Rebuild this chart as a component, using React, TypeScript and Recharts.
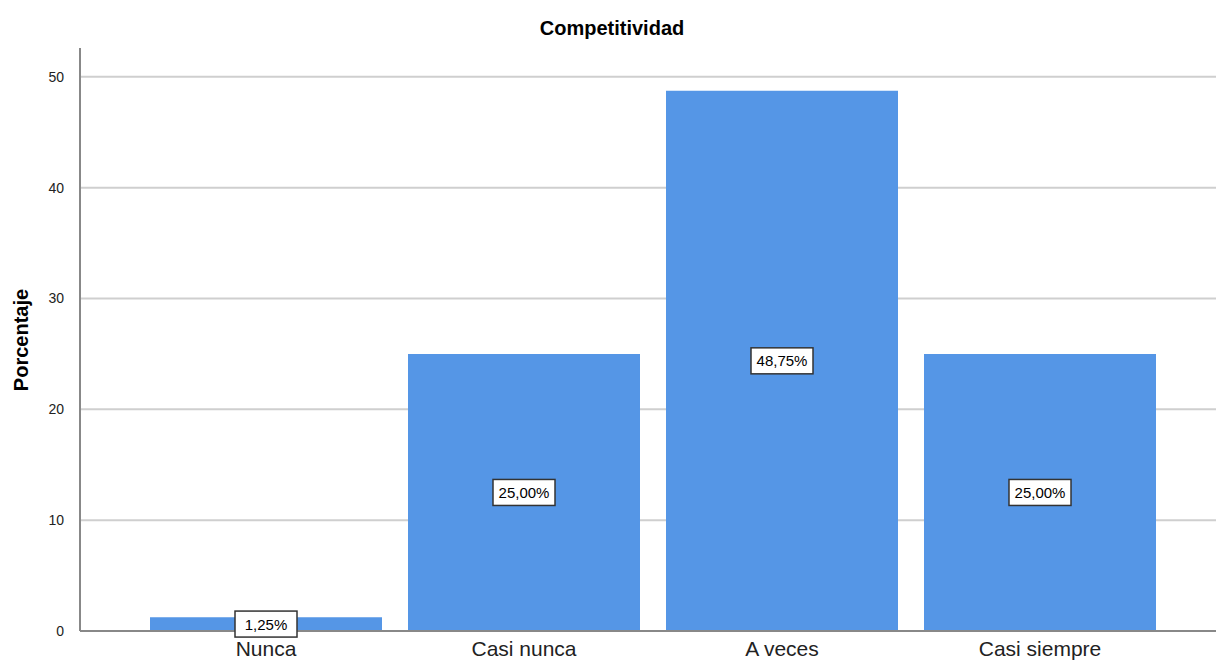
import React from 'react';
import { BarChart, Bar, XAxis, YAxis, CartesianGrid, LabelList } from 'recharts';

const categories = ['Nunca', 'Casi nunca', 'A veces', 'Casi siempre'];
const percentages = [1.25, 25.0, 48.75, 25.0];
const yTicks = [0, 10, 20, 30, 40, 50];

const data = categories.map((name, i) => ({ name, value: percentages[i] }));

const FONT = '"Liberation Sans", Arial, sans-serif';

const BoxLabel = (props: any) => {
  const { x, y, width, height, value } = props;
  const cx = x + width / 2;
  const cy = y + height / 2;
  const text = `${Number(value).toFixed(2).replace('.', ',')}%`;
  const w = 62;
  const h = 26;
  return (
    <g>
      <rect x={cx - w / 2} y={cy - h / 2} width={w} height={h} fill="#fff" stroke="#333" strokeWidth={1.5} />
      <text x={cx} y={cy + 5.5} textAnchor="middle" fontSize={15} fontFamily={FONT} fill="#000">
        {text}
      </text>
    </g>
  );
};

const App: React.FC = () => {
  return (
    <div style={{ position: 'absolute', left: 0, top: 0, width: 1216, height: 664, background: '#fff' }}>
      <div
        style={{
          position: 'absolute', top: 17, left: 0, width: 1224, textAlign: 'center',
          fontFamily: FONT, fontWeight: 'bold', fontSize: 20, color: '#000',
        }}
      >
        Competitividad
      </div>
      <div
        style={{
          position: 'absolute', left: 21, top: 340, transform: 'translate(-50%, -50%) rotate(-90deg)',
          fontFamily: FONT, fontWeight: 'bold', fontSize: 20, color: '#000', whiteSpace: 'nowrap',
        }}
      >
        Porcentaje
      </div>
      <BarChart
        width={1216}
        height={664}
        data={data}
        margin={{ top: 48, right: 0, bottom: 0, left: 0 }}
        barCategoryGap={13}
      >
        <CartesianGrid vertical={false} horizontalValues={yTicks} stroke="#cfcfcf" strokeWidth={2} />
        <XAxis
          dataKey="name"
          height={33}
          padding={{ left: 57, right: 47 }}
          axisLine={{ stroke: '#888', strokeWidth: 2 }}
          tickLine={false}
          tick={{ fontSize: 21, fontFamily: FONT, fill: '#222' }}
          tickMargin={4}
        />
        <YAxis
          width={80}
          domain={[0, 52.6]}
          ticks={yTicks}
          axisLine={{ stroke: '#888', strokeWidth: 2 }}
          tickLine={false}
          tick={{ fontSize: 14, fontFamily: FONT, fill: '#222' }}
          tickMargin={10}
        />
        <Bar dataKey="value" fill="#5596E6" isAnimationActive={false}>
          <LabelList dataKey="value" content={BoxLabel} />
        </Bar>
      </BarChart>
    </div>
  );
};

export default App;
